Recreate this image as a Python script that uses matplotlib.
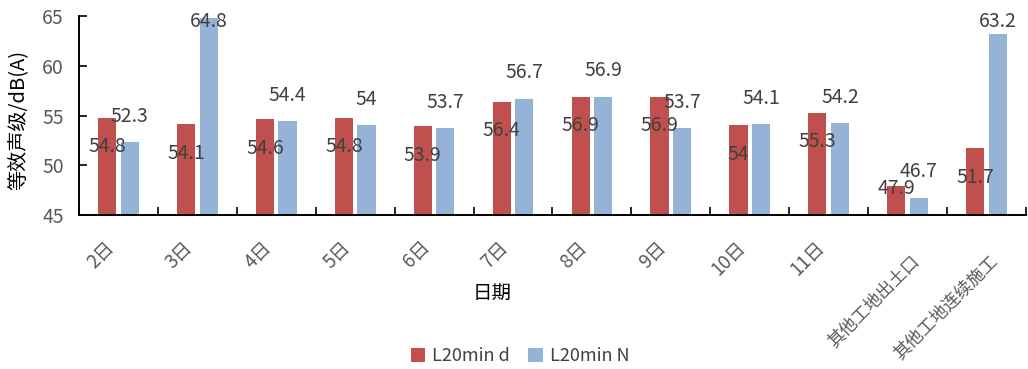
import matplotlib
matplotlib.use("Agg")
import matplotlib.pyplot as plt
import matplotlib.transforms as mtransforms
import numpy as np
from matplotlib.patches import Patch

plt.rcParams['font.family'] = ['Noto Sans CJK SC', 'DejaVu Sans']

categories = ['2日', '3日', '4日', '5日', '6日', '7日', '8日', '9日', '10日', '11日',
              '其他工地出土口', '其他工地连续施工']
l20_day = [54.8, 54.1, 54.6, 54.8, 53.9, 56.4, 56.9, 56.9, 54.0, 55.3, 47.9, 51.7]
l20_night = [52.3, 64.8, 54.4, 54.0, 53.7, 56.7, 56.9, 53.7, 54.1, 54.2, 46.7, 63.2]
series_names = ['L20min d', 'L20min N']
y_ticks = [45, 50, 55, 60, 65]

red = '#C0504D'
blue = '#95B3D7'
text_grey = '#404040'
tick_grey = '#595959'

fig = plt.figure(figsize=(10.28, 3.69), dpi=100)
ax = fig.add_axes([0.0768, 0.4173, 0.9212, 0.5393])

x = np.arange(len(categories))
w = 0.23
off = 0.143
ax.bar(x - off, l20_day, width=w, color=red, bottom=0)
ax.bar(x + off, l20_night, width=w, color=blue, bottom=0)

ax.set_ylim(45, 65)
ax.set_xlim(-0.5, len(categories) - 0.5)
ax.set_yticks(y_ticks)
ax.tick_params(axis='y', direction='in', length=6, width=1.2, labelsize=14,
               labelcolor=tick_grey, pad=11)

# category labels at bar-group centres, tick marks at group boundaries
ax.set_xticks(x)
ax.set_xticklabels(categories, rotation=45, ha='right', va='bottom',
                   rotation_mode='anchor', fontsize=13.5, color=tick_grey)
ax.tick_params(axis='x', which='major', length=0, pad=26.5)
ax.set_xticks(np.arange(len(categories) + 1) - 0.5, minor=True)
ax.tick_params(axis='x', which='minor', direction='in', length=6, width=1.2)

# long text labels sit a little further right and lower
for lab in ax.get_xticklabels():
    if len(lab.get_text()) > 4:
        lab.set_fontsize(12.5)
        lab.set_transform(lab.get_transform() +
                          mtransforms.ScaledTranslation(0.15, -0.13, fig.dpi_scale_trans))

for s in ['top', 'right']:
    ax.spines[s].set_visible(False)
for s in ['left', 'bottom']:
    ax.spines[s].set_linewidth(1.4)
    ax.spines[s].set_color('black')

# value labels
for xi, v in zip(x, l20_day):
    ax.text(xi - off, max(v - 2.95, 47.7), f'{v:g}', ha='center', va='center',
            fontsize=14, color=text_grey)
for xi, v in zip(x, l20_night):
    ax.text(xi + off, min(v + 2.65, 64.4), f'{v:g}', ha='center', va='center',
            fontsize=14, color=text_grey)

fig.text(18 / 1028, 1 - 120 / 369, '等效声级/dB(A)', rotation=90, ha='center',
         va='center', fontsize=14.5, color='black')
fig.text(492 / 1028, 1 - 293 / 369, '日期', ha='center', va='center', fontsize=14)

handles = [Patch(facecolor=red), Patch(facecolor=blue)]
fig.legend(handles, series_names, loc='center', bbox_to_anchor=(0.506, 1 - 356 / 369),
           ncol=2, frameon=False, fontsize=13, handlelength=0.8, handleheight=0.8,
           handletextpad=0.4, columnspacing=1.0, labelcolor=text_grey)

fig.savefig('out.png', dpi=100)
